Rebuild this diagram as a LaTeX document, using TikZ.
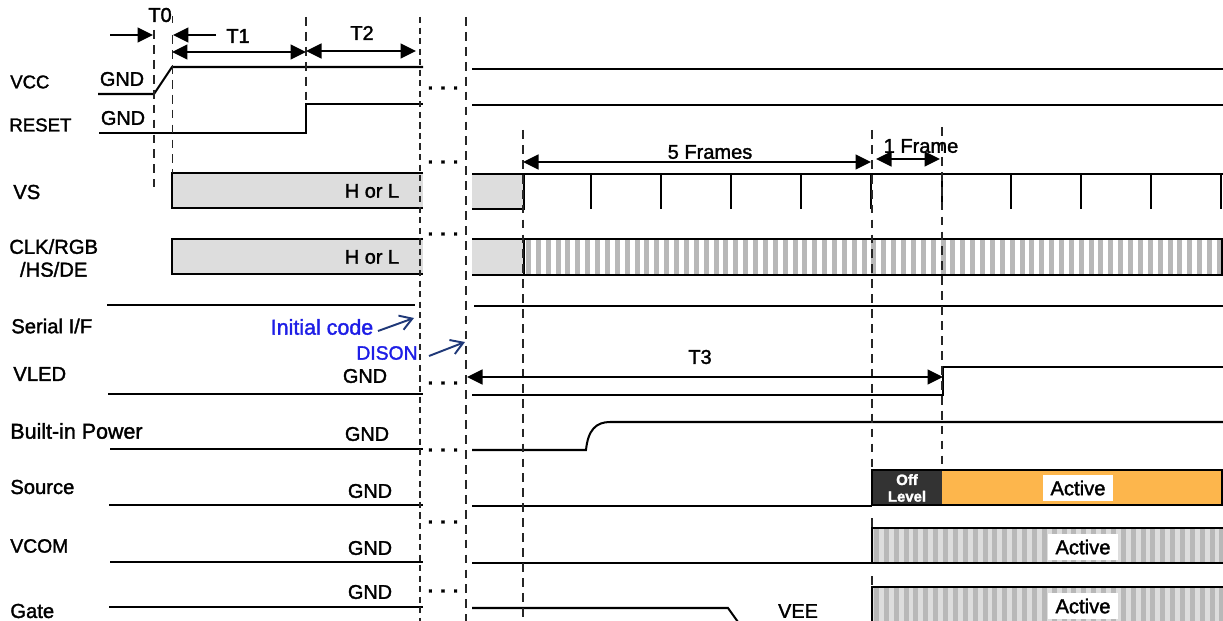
\documentclass[tikz,border=0pt]{standalone}
\usepackage{fontspec}
\setmainfont[RawFeature={embolden=1.6}]{Liberation Sans}
\usetikzlibrary{arrows.meta}
\definecolor{boxgray}{RGB}{221,221,221}
\definecolor{stripegray}{RGB}{184,184,184}
\definecolor{offdark}{RGB}{51,51,51}
\definecolor{activeorange}{RGB}{253,182,76}
\definecolor{notenavy}{RGB}{31,56,120}
\definecolor{noteblue}{RGB}{30,30,230}
\tikzset{
  wave/.style={line width=1.15pt, black},
  tmark/.style={dashed, line width=0.7pt, black!85, dash pattern=on 5pt off 3.5pt},
  dimarrow/.style={{Triangle[length=3.1mm,width=3mm]}-{Triangle[length=3.1mm,width=3mm]}, line width=0.95pt},
  onearrow/.style={-{Triangle[length=3.1mm,width=3mm]}, line width=0.95pt},
  notearrow/.style={-{Straight Barb[length=2.4mm,width=3mm]}, line width=1.1pt, notenavy},
  siglabel/.style={font=\fontsize{11.5}{13}\selectfont, anchor=west, inner sep=0pt},
  gndlabel/.style={font=\fontsize{11.3}{12}\selectfont, inner sep=0pt},
  dimlabel/.style={font=\fontsize{11.4}{12}\selectfont, inner sep=0pt},
  notelabel/.style={inner sep=0pt, noteblue},
  activelabel/.style={font=\fontsize{11.5}{12}\selectfont, fill=white, inner xsep=4pt, inner ysep=3pt},
  gaptext/.style={font=\bfseries\fontsize{11}{12}\selectfont, inner sep=0pt}
}
\newcommand{\stripeband}[4]{
  \pgfmathsetmacro{\stripenext}{#1+9.87}
  \foreach \stripex in {#1,\stripenext,...,#2}
    \fill[stripegray] (\stripex+2,#3) rectangle ({min(\stripex+7,#2)},#4);
}
\begin{document}
\begin{tikzpicture}[x=0.02cm, y=-0.02cm]
  \useasboundingbox (0,0) rectangle (1223,621);

  \fill[boxgray] (172,173) rectangle (423,208);
  \fill[boxgray] (172,239) rectangle (423,274);
  \fill[boxgray] (472,174) rectangle (524,209);
  \fill[boxgray] (472,239) rectangle (524,275);
  \stripeband{524}{1223}{240}{274}
  \fill[offdark] (872,470) rectangle (942,505);
  \fill[activeorange] (942,470) rectangle (1223,505);
  \fill[boxgray] (872,528) rectangle (1223,563);
  \stripeband{872}{1223}{529}{562}
  \fill[boxgray] (872,587) rectangle (1223,621);
  \stripeband{872}{1223}{588}{621}

  \draw[wave] (98,94) -- (154,94) -- (172,67) -- (423,67);
  \draw[wave] (472,69) -- (1223,69);
  \draw[wave] (99,133) -- (306,133) -- (306,104) -- (423,104);
  \draw[wave] (472,105) -- (1223,105);
  \draw[wave] (423,173) -- (172,173) -- (172,208) -- (423,208);
  \draw[wave] (472,174) -- (1223,174);
  \draw[wave] (472,209) -- (524,209) -- (524,174);
  \foreach \tickx in {591,661,731,801,871,942,1011,1081,1151,1221}
    \draw[wave] (\tickx,174) -- (\tickx,209);
  \draw[wave] (423,239) -- (172,239) -- (172,274) -- (423,274);
  \draw[wave] (472,239) -- (1223,239);
  \draw[wave] (472,275) -- (1223,275);
  \draw[wave] (524,239) -- (524,275);
  \draw[wave] (1222,239) -- (1222,275);
  \draw[wave] (107,305) -- (415,305);
  \draw[wave] (474,306) -- (1223,306);
  \draw[wave] (108,394) -- (423,394);
  \draw[wave] (472,395) -- (943,395) -- (943,367) -- (1223,367);
  \draw[wave] (110,449) -- (423,449);
  \draw[wave] (472,450) -- (586,450) .. controls (588,430) and (596,422) .. (610,422) -- (1223,422);
  \draw[wave] (109,505) -- (423,505);
  \draw[wave] (472,506) -- (872,506);
  \draw[wave] (872,470) rectangle (1222,505);
  \draw[wave] (110,562) -- (423,562);
  \draw[wave] (472,563) -- (1223,563);
  \draw[wave] (1223,528) -- (872,528) -- (872,563);
  \draw[wave] (109,607) -- (423,607);
  \draw[wave] (472,608) -- (728,608) -- (738,622);
  \draw[wave] (1223,587) -- (872,587) -- (872,622);

  \draw[tmark] (154,30) -- (154,187);
  \draw[tmark] (172.5,16) -- (172.5,23);
  \draw[tmark] (172.5,35) -- (172.5,173);
  \draw[tmark] (306,17) -- (306,104);
  \draw[tmark, line width=0.6pt, dash pattern=on 3.5pt off 2.5pt] (420,17) -- (420,621);
  \draw[tmark] (466,17) -- (466,621);
  \draw[tmark] (523,130) -- (523,621);
  \draw[tmark] (872,130) -- (872,470);
  \draw[tmark] (942,127) -- (942,470);
  \draw[tmark] (872,518) -- (872,528);
  \draw[tmark] (872,576) -- (872,587);

  \coordinate (t0from) at (110,35);
  \coordinate (t0to) at (153,35);
  \coordinate (t1from) at (216,35);
  \coordinate (t1to) at (173,35);
  \coordinate (t1left) at (172,52);
  \coordinate (t1right) at (306,52);
  \coordinate (t2left) at (306,51);
  \coordinate (t2right) at (416,51);
  \coordinate (fiveleft) at (523,162);
  \coordinate (fiveright) at (871,162);
  \coordinate (oneleft) at (876,159);
  \coordinate (oneright) at (940,159);
  \coordinate (t3left) at (467,377);
  \coordinate (t3right) at (943,377);
  \draw[onearrow] (t0from) -- (t0to);
  \draw[onearrow] (t1from) -- (t1to);
  \draw[dimarrow] (t1left) -- (t1right);
  \draw[dimarrow] (t2left) -- (t2right);
  \draw[dimarrow] (fiveleft) -- (fiveright);
  \draw[dimarrow] (oneleft) -- (oneright);
  \draw[dimarrow] (t3left) -- (t3right);

  \node[dimlabel] (t0lbl) at (160,15) {T0};
  \node[dimlabel] (t1lbl) at (238,36) {T1};
  \node[dimlabel] (t2lbl) at (362,33) {T2};
  \node[dimlabel] (fivelbl) at (710,152) {5 Frames};
  \node[dimlabel] (onelbl) at (921,146) {1 Frame};
  \node[dimlabel] (t3lbl) at (700,357) {T3};

  \node[siglabel, font=\fontsize{10.5}{12}\selectfont] (vcclbl) at (10,82) {VCC};
  \node[siglabel, font=\fontsize{10.6}{12}\selectfont] (resetlbl) at (9,125) {RESET};
  \node[siglabel] (vslbl) at (13,192) {VS};
  \node[siglabel, align=center] (clklbl) at (9,258) {CLK/RGB\\/HS/DE};
  \node[siglabel] (seriallbl) at (11,326) {Serial I/F};
  \node[siglabel] (vledlbl) at (13,374) {VLED};
  \node[siglabel, font=\fontsize{12.2}{13}\selectfont] (builtlbl) at (10,431) {Built-in Power};
  \node[siglabel] (sourcelbl) at (10,487) {Source};
  \node[siglabel, font=\fontsize{11}{13}\selectfont] (vcomlbl) at (10,546) {VCOM};
  \node[siglabel] (gatelbl) at (10,611) {Gate};

  \node[gndlabel] (gndvcc) at (122,79) {GND};
  \node[gndlabel] (gndreset) at (123,118) {GND};
  \node[gndlabel] (gndvled) at (365,376) {GND};
  \node[gndlabel] (gndbuilt) at (367,434) {GND};
  \node[gndlabel] (gndsource) at (370,491) {GND};
  \node[gndlabel] (gndvcom) at (370,548) {GND};
  \node[gndlabel] (gndgate) at (370,592) {GND};
  \node[gndlabel] (veelbl) at (798,611) {VEE};
  \node[gndlabel] (hlvs) at (372,191) {H or L};
  \node[gndlabel] (hlclk) at (372,257) {H or L};

  \foreach \gapy/\gapname in {88/a,162/b,234/c,383/d,450/e,522/f,591/g}
    \node[gaptext] (gap\gapname) at (443,\gapy) {. . .};

  \node[notelabel, font=\fontsize{12.2}{13}\selectfont] (initlbl) at (322,327) {Initial code};
  \node[notelabel, font=\fontsize{11}{13}\selectfont] (disonlbl) at (387,353) {DISON};
  \coordinate (initfrom) at (378,331);
  \coordinate (initto) at (414,318);
  \coordinate (disonfrom) at (429,356);
  \coordinate (disonto) at (465,342);
  \draw[notearrow] (initfrom) -- (initto);
  \draw[notearrow] (disonfrom) -- (disonto);

  \node[font=\bfseries\fontsize{8.5}{9.5}\selectfont, text=white, align=center, inner sep=0pt] (offlbl) at (907,488) {Off\\Level};
  \node[activelabel] (actsource) at (1078,488) {Active};
  \node[activelabel] (actvcom) at (1083,547) {Active};
  \node[activelabel] (actgate) at (1083,606) {Active};
\end{tikzpicture}
\end{document}
